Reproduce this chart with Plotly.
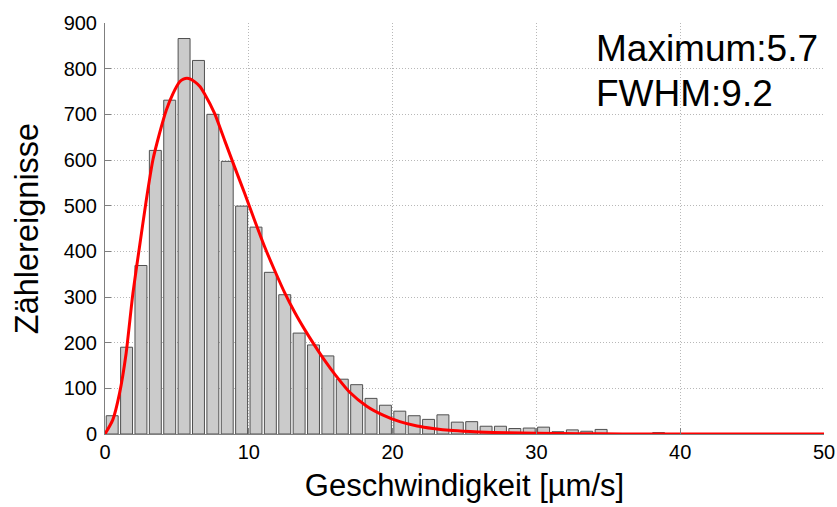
import plotly.graph_objects as go

# Histogram bins (centers, µm/s) and counts
bin_centers = [0.5, 1.5, 2.5, 3.5, 4.5, 5.5, 6.5, 7.5, 8.5, 9.5,
               10.5, 11.5, 12.5, 13.5, 14.5, 15.5, 16.5, 17.5, 18.5, 19.5,
               20.5, 21.5, 22.5, 23.5, 24.5, 25.5, 26.5, 27.5, 28.5, 29.5,
               30.5, 31.5, 32.5, 33.5, 34.5, 35.5, 36.5, 37.5, 38.5]
counts = [40, 190, 369, 621, 731, 866, 818, 700, 597, 499,
          453, 354, 305, 221, 195, 171, 120, 108, 78, 63,
          50, 40, 32, 42, 26, 27, 17, 17, 12, 13,
          15, 5, 9, 6, 10, 0, 0, 0, 3]

# Fitted curve
fit_x = [0, 0.54, 1.01, 1.47, 1.94, 2.40, 2.87, 3.33, 3.79, 4.26, 4.72, 5.18, 5.45, 5.7,
         5.95, 6.25, 6.6, 6.92, 7.62, 8.32, 9.01, 9.71, 10.4, 11.1, 11.8, 12.5, 13.2, 13.9,
         14.6, 15.3, 16.0, 17.0, 18.2, 19.3, 20.5, 21.7, 22.8, 24.2, 26.0, 28.0,
         30.0, 33.0, 36.0, 40.0, 45.0, 50.0]
fit_y = [0, 31, 89, 177, 308, 410, 512, 600, 658, 709, 745, 771, 777, 779,
         777, 771, 761, 745, 702, 643, 585, 527, 468, 410, 358, 309, 266, 228,
         193, 160, 130, 92, 61, 42, 27, 17.5, 12, 7.5, 4.5, 2.5,
         1.5, 0.6, 0.2, 0, 0, 0]

x_ticks = [0, 10, 20, 30, 40, 50]
y_ticks = [0, 100, 200, 300, 400, 500, 600, 700, 800, 900]

annot_lines = ["Maximum:5.7", "FWHM:9.2"]

FONT = "Liberation Sans, Arial, Helvetica, sans-serif"

fig = go.Figure()
fig.add_trace(go.Bar(
    x=bin_centers, y=counts, width=0.83,
    marker=dict(color="#cbcbcb", line=dict(color="#505050", width=1)),
    showlegend=False,
))
fig.add_trace(go.Scatter(
    x=fit_x, y=fit_y, mode="lines",
    line=dict(color="#ff0000", width=3, shape="spline", smoothing=0.6),
    showlegend=False,
))

fig.update_layout(
    width=837, height=507,
    margin=dict(l=105, r=13, t=23, b=73, autoexpand=False),
    paper_bgcolor="white", plot_bgcolor="white",
    font=dict(family=FONT, color="black"),
)
fig.update_xaxes(
    range=[0, 50], tickvals=x_ticks, ticktext=[str(v) for v in x_ticks],
    showgrid=True, gridcolor="#b8b8b8", griddash="1px,2px", gridwidth=1,
    showline=True, linecolor="#7f7f7f", linewidth=1,
    ticks="inside", ticklen=6, tickcolor="#7f7f7f",
    tickfont=dict(size=20), zeroline=False, automargin=False,
    title=dict(text="Geschwindigkeit [µm/s]", font=dict(size=31), standoff=12),
)
fig.update_yaxes(
    range=[0, 900], tickvals=y_ticks, ticktext=[str(v) for v in y_ticks],
    showgrid=True, gridcolor="#b8b8b8", griddash="1px,2px", gridwidth=1,
    showline=True, linecolor="#7f7f7f", linewidth=1,
    ticks="inside", ticklen=6, tickcolor="#7f7f7f",
    tickfont=dict(size=20), zeroline=False, ticklabelstandoff=3, automargin=False,
    title=dict(text="Zählereignisse", font=dict(size=32.5), standoff=15),
)

ann_y = [0.9385, 0.829]
for txt, yy in zip(annot_lines, ann_y):
    fig.add_annotation(
        text=txt, xref="paper", yref="paper", x=0.680, y=yy,
        xanchor="left", yanchor="middle", showarrow=False,
        font=dict(size=37, color="black", family=FONT),
    )

fig.write_html("out.html")
